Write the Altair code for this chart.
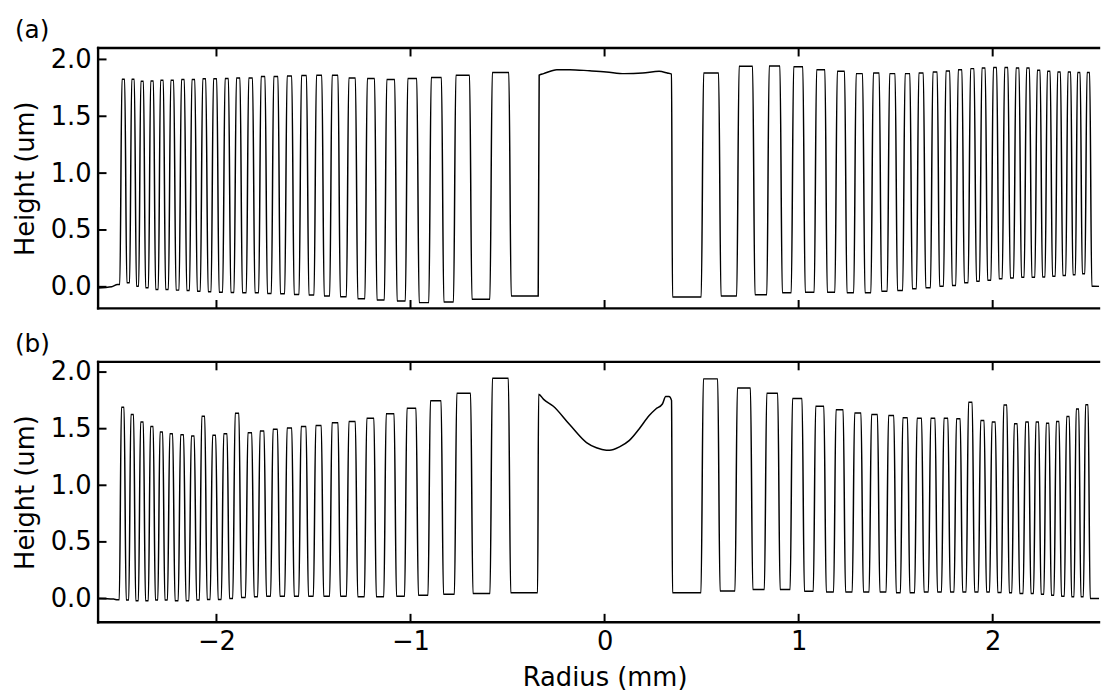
import numpy as np
import pandas as pd
import altair as alt

# ---------------- axes ----------------
X_DOMAIN = [-2.61, 2.548]
YA_DOMAIN = [-0.19, 2.10]
YB_DOMAIN = [-0.21, 2.09]
X_TICKS = [-2, -1, 0, 1, 2]
Y_TICKS = [0.0, 0.5, 1.0, 1.5, 2.0]

# ---------------- panel (a) ----------------
a_base_left_x = [-2.61, -2.54, -2.51]
a_base_left_y = [-0.01, 0.0, 0.02]
a_left_centers = [-2.480, -2.430, -2.383, -2.332, -2.281, -2.228, -2.173, -2.119, -2.063, -2.007,
                  -1.947, -1.888, -1.824, -1.760, -1.694, -1.624, -1.549, -1.471, -1.389, -1.301,
                  -1.204, -1.102, -0.991, -0.867, -0.731, -0.536]
a_left_peaks = [1.826, 1.826, 1.809, 1.811, 1.817, 1.817, 1.823, 1.823, 1.829, 1.829,
                1.832, 1.837, 1.837, 1.849, 1.849, 1.855, 1.858, 1.861, 1.861, 1.837,
                1.832, 1.823, 1.832, 1.840, 1.861, 1.884]
a_left_troughs = [0.035, 0.006, -0.009, -0.023, -0.023, -0.029, -0.032, -0.038, -0.044, -0.047,
                  -0.049, -0.052, -0.052, -0.058, -0.061, -0.067, -0.072, -0.081, -0.087, -0.105,
                  -0.116, -0.125, -0.139, -0.133, -0.110, -0.080]
a_center_x = [-0.337, -0.314, -0.246, -0.179, -0.077, 0.009, 0.102, 0.196, 0.281, 0.323, 0.345]
a_center_y = [1.861, 1.875, 1.910, 1.910, 1.900, 1.890, 1.875, 1.880, 1.895, 1.880, 1.870]
a_right_centers = [0.549, 0.728, 0.876, 0.998, 1.114, 1.218, 1.313, 1.400, 1.483, 1.561,
                   1.631, 1.703, 1.769, 1.832, 1.895, 1.953, 2.012, 2.070, 2.128, 2.182,
                   2.237, 2.289, 2.342, 2.395, 2.444, 2.493]
a_right_peaks = [1.880, 1.939, 1.942, 1.936, 1.910, 1.895, 1.875, 1.881, 1.875, 1.875,
                 1.881, 1.890, 1.898, 1.910, 1.919, 1.925, 1.928, 1.928, 1.925, 1.925,
                 1.904, 1.895, 1.890, 1.890, 1.884, 1.884]
a_right_troughs = [-0.090, -0.080, -0.070, -0.052, -0.047, -0.047, -0.052, -0.052, -0.038, -0.032,
                   -0.017, -0.009, 0.006, 0.012, 0.035, 0.049, 0.058, 0.070, 0.078, 0.084,
                   0.084, 0.087, 0.093, 0.099, 0.107, 0.116]
a_base_right_x = [2.52, 2.61]
a_base_right_y = [0.005, 0.0]

# ---------------- panel (b) ----------------
b_base_left_x = [-2.61, -2.53, -2.51]
b_base_left_y = [0.0, -0.005, -0.012]
b_left_centers = [-2.483, -2.434, -2.384, -2.333, -2.284, -2.233, -2.177, -2.122, -2.068, -2.012,
                  -1.954, -1.894, -1.828, -1.765, -1.697, -1.624, -1.551, -1.474, -1.389, -1.301,
                  -1.207, -1.105, -0.995, -0.870, -0.726, -0.537]
b_left_peaks = [1.689, 1.625, 1.558, 1.520, 1.470, 1.456, 1.447, 1.436, 1.610, 1.441,
                1.456, 1.636, 1.465, 1.479, 1.494, 1.505, 1.520, 1.529, 1.552, 1.564,
                1.593, 1.631, 1.680, 1.747, 1.814, 1.945]
b_left_troughs = [-0.014, -0.020, -0.020, -0.014, -0.014, -0.020, -0.020, -0.014, -0.008, -0.008,
                  0.000, 0.009, 0.015, 0.020, 0.020, 0.020, 0.020, 0.020, 0.020, 0.015,
                  0.015, 0.020, 0.029, 0.038, 0.044, 0.050]
b_center_x = [-0.340, -0.314, -0.264, -0.179, -0.093, -0.042, 0.009, 0.026, 0.077, 0.128,
              0.179, 0.230, 0.264, 0.298, 0.315, 0.332, 0.345]
b_center_y = [1.805, 1.759, 1.698, 1.534, 1.377, 1.331, 1.310, 1.310, 1.340, 1.397,
              1.500, 1.616, 1.674, 1.718, 1.785, 1.785, 1.750]
b_right_centers = [0.546, 0.718, 0.864, 0.993, 1.109, 1.211, 1.305, 1.391, 1.477, 1.549,
                   1.622, 1.692, 1.759, 1.823, 1.885, 1.947, 2.005, 2.065, 2.119, 2.177,
                   2.230, 2.283, 2.335, 2.388, 2.437, 2.485]
b_right_peaks = [1.940, 1.860, 1.814, 1.767, 1.698, 1.668, 1.639, 1.625, 1.616, 1.596,
                 1.593, 1.593, 1.593, 1.587, 1.733, 1.572, 1.558, 1.709, 1.543, 1.558,
                 1.558, 1.549, 1.564, 1.607, 1.674, 1.712]
b_right_troughs = [0.050, 0.067, 0.079, 0.079, 0.064, 0.058, 0.058, 0.058, 0.058, 0.050,
                   0.050, 0.058, 0.058, 0.058, 0.058, 0.058, 0.058, 0.052, 0.050, 0.044,
                   0.044, 0.038, 0.029, 0.020, 0.015, 0.015]
b_base_right_x = [2.52, 2.61]
b_base_right_y = [0.0, 0.0]


def ring_edges(centers):
    c = np.array(centers, dtype=float)
    n = len(c)
    half = np.empty(n)
    for i in range(n):
        if i == 0:
            p = c[1] - c[0]
        elif i == n - 1:
            p = c[-1] - c[-2]
        else:
            p = (c[i + 1] - c[i - 1]) / 2
        half[i] = abs(p) / 4
    return c - half, c + half


def build_profile(blx, bly, lc, lp, lt, cx, cy, rc, rp, rt, brx, bry):
    xs, ys = list(blx), list(bly)
    la, lb = ring_edges(lc)
    for i in range(len(lc)):
        e = min(0.22 * (lb[i] - la[i]), 0.006)
        lo_left = bly[-1] if i == 0 else lt[i - 1]
        xs += [la[i] - e, la[i] + e, lb[i] - e, lb[i] + e]
        ys += [lo_left, lp[i], lp[i], lt[i]]
    e = 0.005
    xs += [cx[0] - e] + list(cx) + [cx[-1] + e]
    ys += [lt[-1]] + list(cy) + [rt[0]]
    ra, rb = ring_edges(rc)
    for i in range(len(rc)):
        e = min(0.22 * (rb[i] - ra[i]), 0.006)
        lo_right = bry[0] if i == len(rc) - 1 else rt[i + 1]
        xs += [ra[i] - e, ra[i] + e, rb[i] - e, rb[i] + e]
        ys += [rt[i], rp[i], rp[i], lo_right]
    xs += list(brx)
    ys += list(bry)
    return pd.DataFrame({"r": xs, "h": ys, "i": np.arange(len(xs))})


df_a = build_profile(a_base_left_x, a_base_left_y, a_left_centers, a_left_peaks, a_left_troughs,
                     a_center_x, a_center_y, a_right_centers, a_right_peaks, a_right_troughs,
                     a_base_right_x, a_base_right_y)
df_b = build_profile(b_base_left_x, b_base_left_y, b_left_centers, b_left_peaks, b_left_troughs,
                     b_center_x, b_center_y, b_right_centers, b_right_peaks, b_right_troughs,
                     b_base_right_x, b_base_right_y)

W, H = 1011, 263
TL = 8.5
FONT = "DejaVu Sans"
TICK_FS = 26
TITLE_FS = 26
LABEL_FS = 25


def panel(df, ydom, label, show_x):
    xs = alt.Scale(domain=X_DOMAIN, nice=False, zero=False)
    ys = alt.Scale(domain=ydom, nice=False, zero=False)
    if show_x:
        xaxis = alt.Axis(values=X_TICKS, format="d", title="Radius (mm)", ticks=False, tickSize=0,
                         domain=False, grid=False, labelFont=FONT, labelFontSize=TICK_FS,
                         labelColor="black", labelPadding=28, labelBaseline="alphabetic",
                         labelOverlap=False, labelFlush=False,
                         titleFont=FONT, titleFontSize=TITLE_FS, titleFontWeight="normal",
                         titleColor="black", titleX=511.6, titleY=64, titleBaseline="alphabetic")
    else:
        xaxis = None
    yaxis = alt.Axis(values=Y_TICKS, format=".1f", title="Height (um)", ticks=False, tickSize=0,
                     domain=False, grid=False, labelFont=FONT, labelFontSize=TICK_FS,
                     labelColor="black", labelPadding=7, labelOverlap=False, labelFlush=False,
                     titleFont=FONT, titleFontSize=TITLE_FS, titleFontWeight="normal",
                     titleColor="black", titleX=-65, titleY=H / 2, titleAngle=270,
                     titleBaseline="alphabetic")
    line = alt.Chart(df).mark_line(color="black", strokeWidth=1.5, interpolate="monotone",
                                   clip=True).encode(
        x=alt.X("r:Q", scale=xs, axis=xaxis),
        y=alt.Y("h:Q", scale=ys, axis=yaxis),
        order="i:Q",
    )
    xt = pd.DataFrame({"t": X_TICKS})
    yt = pd.DataFrame({"t": Y_TICKS})
    xt_top = alt.Chart(xt).mark_rule(color="black", strokeWidth=2).encode(
        x=alt.X("t:Q", scale=xs, axis=xaxis), y=alt.value(0), y2=alt.value(TL))
    xt_bot = alt.Chart(xt).mark_rule(color="black", strokeWidth=2).encode(
        x=alt.X("t:Q", scale=xs, axis=xaxis), y=alt.value(H - TL), y2=alt.value(H))
    yt_left = alt.Chart(yt).mark_rule(color="black", strokeWidth=2).encode(
        y=alt.Y("t:Q", scale=ys, axis=yaxis), x=alt.value(0), x2=alt.value(TL))
    bd = pd.DataFrame({"k": [0]})
    b_left = alt.Chart(bd).mark_rule(color="black", strokeWidth=2.4, strokeCap="square").encode(
        x=alt.value(0), y=alt.value(0), y2=alt.value(H))
    b_top = alt.Chart(bd).mark_rule(color="black", strokeWidth=2.4, strokeCap="square").encode(
        x=alt.value(0), x2=alt.value(W), y=alt.value(0))
    b_bot = alt.Chart(bd).mark_rule(color="black", strokeWidth=2.4, strokeCap="square").encode(
        x=alt.value(0), x2=alt.value(W), y=alt.value(H))
    lab = alt.Chart(pd.DataFrame({"lab": [label]})).mark_text(
        align="left", baseline="alphabetic", fontSize=LABEL_FS, font=FONT, color="black").encode(
        text="lab:N", x=alt.value(-84), y=alt.value(-10))
    return alt.layer(line, xt_top, xt_bot, yt_left, b_left, b_top, b_bot, lab).properties(
        width=W, height=H)


top = panel(df_a, YA_DOMAIN, "(a)", False)
bottom = panel(df_b, YB_DOMAIN, "(b)", True)

chart = alt.vconcat(top, bottom, spacing=54, bounds="flush").properties(
    padding={"left": 5, "top": 7, "right": 0, "bottom": 0}
).configure_view(stroke=None)

chart.save("out.html", embed_options={"renderer": "svg", "actions": False})
